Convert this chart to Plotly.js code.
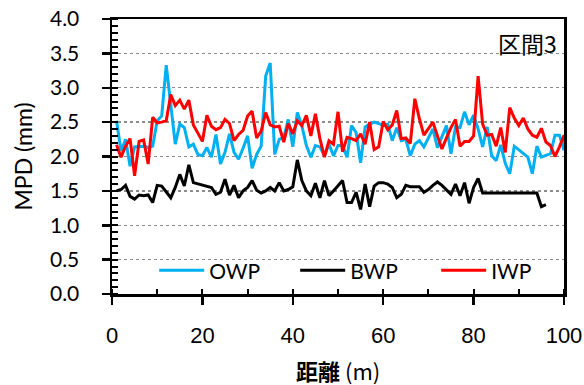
<!DOCTYPE html>
<html><head><meta charset="utf-8">
<script src="https://cdn.plot.ly/plotly-3.0.1.min.js"></script>
<style>html,body{margin:0;padding:0;background:#fff}#chart{width:584px;height:385px}</style>
</head><body><div id="chart"></div>
<script>
// distance (m)
const distance = [1,2,3,4,5,6,7,8,9,10,11,12,13,14,15,16,17,18,19,20,
  21,22,23,24,25,26,27,28,29,30,31,32,33,34,35,36,37,38,39,40,
  41,42,43,44,45,46,47,48,49,50,51,52,53,54,55,56,57,58,59,60,
  61,62,63,64,65,66,67,68,69,70,71,72,73,74,75,76,77,78,79,80,
  81,82,83,84,85,86,87,88,89,90,91,92,93,94,95,96,97,98,99,100,101];

const owp = [2.52,2.08,2.25,1.86,2.14,2.14,2.15,2.13,2.15,2.52,
  2.59,3.33,2.75,2.18,2.47,2.42,2.14,2.18,2.03,2.01,
  2.13,1.99,2.32,1.89,2.06,2.33,2.06,1.96,2.12,2.30,
  1.83,2.03,2.15,3.17,3.36,2.03,2.25,2.28,2.54,2.14,
  2.64,2.45,2.16,1.99,2.16,2.14,2.01,2.18,2.01,2.16,
  2.16,1.99,2.45,2.35,1.91,2.43,2.47,2.50,2.48,2.45,
  2.47,2.23,2.42,2.23,2.25,2.01,2.18,2.23,2.14,2.28,
  2.40,2.13,2.29,2.45,2.04,2.43,2.42,2.65,2.46,2.60,
  2.40,2.14,2.43,2.01,1.94,2.17,1.90,1.75,2.15,2.10,
  2.04,1.99,1.75,2.15,1.99,2.01,2.04,2.31,2.31,2.09,null];

const bwp = [1.50,1.52,1.58,1.42,1.38,1.44,1.43,1.44,1.33,1.58,
  1.57,1.49,1.40,1.55,1.74,1.57,1.88,1.62,1.60,1.59,
  1.56,1.55,1.45,1.48,1.67,1.44,1.58,1.40,1.50,1.55,
  1.65,1.51,1.47,1.50,1.55,1.50,1.62,1.50,1.52,1.56,
  1.95,1.65,1.50,1.43,1.61,1.40,1.65,1.43,1.50,1.57,
  1.65,1.33,1.33,1.48,1.23,1.60,1.27,1.57,1.62,1.62,
  1.60,1.55,1.40,1.45,1.58,1.56,1.56,1.56,1.48,1.52,
  1.58,1.63,1.58,1.52,1.45,1.60,1.43,1.62,1.32,1.55,
  1.68,1.47,null,null,null,null,null,null,null,null,
  null,null,null,1.47,1.27,1.30,null,null,null,null,null];

const iwp = [2.17,1.99,2.15,2.26,1.72,2.22,2.24,1.89,2.57,2.49,
  2.50,2.52,2.90,2.74,2.82,2.69,2.82,2.46,2.34,2.22,
  2.60,2.44,2.39,2.42,2.54,2.48,2.23,2.32,2.38,2.59,
  2.66,2.27,2.37,2.64,2.46,2.43,2.44,2.21,2.48,2.33,
  2.52,2.45,2.60,2.30,2.62,2.26,1.99,2.23,2.18,2.65,
  2.07,2.28,2.26,2.23,2.33,2.18,2.50,2.10,2.14,2.51,
  2.39,2.46,2.67,2.26,2.27,2.19,2.84,2.55,2.31,2.40,
  2.50,2.30,2.11,2.27,2.42,2.54,2.15,2.22,2.22,2.30,
  3.17,2.47,2.31,2.32,2.15,2.42,2.06,2.71,2.56,2.45,
  2.56,2.40,2.31,2.28,2.41,2.21,2.16,2.00,2.14,2.31,1.82];

const seriesNames = ['OWP','BWP','IWP'];
const xTickVals = [0,20,40,60,80,100];
const xTickText = ['0','20','40','60','80','100'];
const yTickVals = [0,0.5,1,1.5,2,2.5,3,3.5,4];
const yTickText = ['0.0','0.5','1.0','1.5','2.0','2.5','3.0','3.5','4.0'];
const sectionLabel = '区間3';
const xTitle = '<b>距離</b> (m)';
const yTitle = 'MPD (mm)';

const colors = ['#00B0F0','#000000','#FF0000'];
const values = [owp,bwp,iwp];
const traces = values.map((v,i)=>({
  x: distance, y: v, name: seriesNames[i], type:'scatter', mode:'lines',
  connectgaps:true, line:{color:colors[i], width:3}
}));

const calib = 'Lato, "Open Sans", sans-serif';
const cjk = '"Noto Sans CJK JP", sans-serif';
const layout = {
  width:584, height:385,
  margin:{l:112,r:20,t:19,b:91,pad:0,autoexpand:false},
  paper_bgcolor:'#ffffff', plot_bgcolor:'#ffffff',
  showlegend:true,
  legend:{orientation:'h', xref:'container', yref:'container', x:0.264, y:0.297,
    xanchor:'left', yanchor:'middle',
    bgcolor:'rgba(0,0,0,0)', font:{family:calib, size:21, color:'#000'},
    itemwidth:45, entrywidth:81, entrywidthmode:'pixels', traceorder:'normal'},
  xaxis:{range:[0,100], tickmode:'array', tickvals:xTickVals, ticktext:xTickText,
    ticks:'outside', ticklen:8, tickwidth:2.5, tickcolor:'#000',
    linecolor:'#000', linewidth:2.5, mirror:true, showgrid:false, zeroline:false,
    tickfont:{family:'"Liberation Sans", Arial, sans-serif', size:22, color:'#000'},
    ticklabelstandoff:12,
    minor:{tickmode:'linear', tick0:0, dtick:10, ticks:'inside', ticklen:5, tickwidth:2, tickcolor:'#000', showgrid:false}},
  yaxis:{range:[0,4], tickmode:'array', tickvals:yTickVals, ticktext:yTickText,
    ticks:'outside', ticklen:8, tickwidth:2.5, tickcolor:'#000',
    linecolor:'#000', linewidth:2.5, mirror:true, zeroline:false,
    showgrid:true, gridcolor:'#8c8c8c', griddash:'dot', gridwidth:1.3,
    tickfont:{family:calib, size:21, color:'#000'},
    ticklabelstandoff:18,
    minor:{tickmode:'linear', tick0:0, dtick:0.1, ticks:'inside', ticklen:6, tickwidth:2, tickcolor:'#000', showgrid:false},
    title:{text:yTitle, font:{family:calib, size:23, color:'#000'}, standoff:11}},
  annotations:[
    {xref:'paper', yref:'paper', x:0.988, y:0.913, xanchor:'right', yanchor:'middle',
     text:sectionLabel, showarrow:false, font:{family:cjk, size:23, color:'#000'}},
    {xref:'paper', yref:'paper', x:0.5, y:-0.2764, xanchor:'center', yanchor:'middle',
     text:xTitle, showarrow:false, font:{family:cjk, size:22, color:'#000'}}
  ]
};
Plotly.newPlot('chart', traces, layout, {staticPlot:true, displayModeBar:false});
</script>
</body></html>
